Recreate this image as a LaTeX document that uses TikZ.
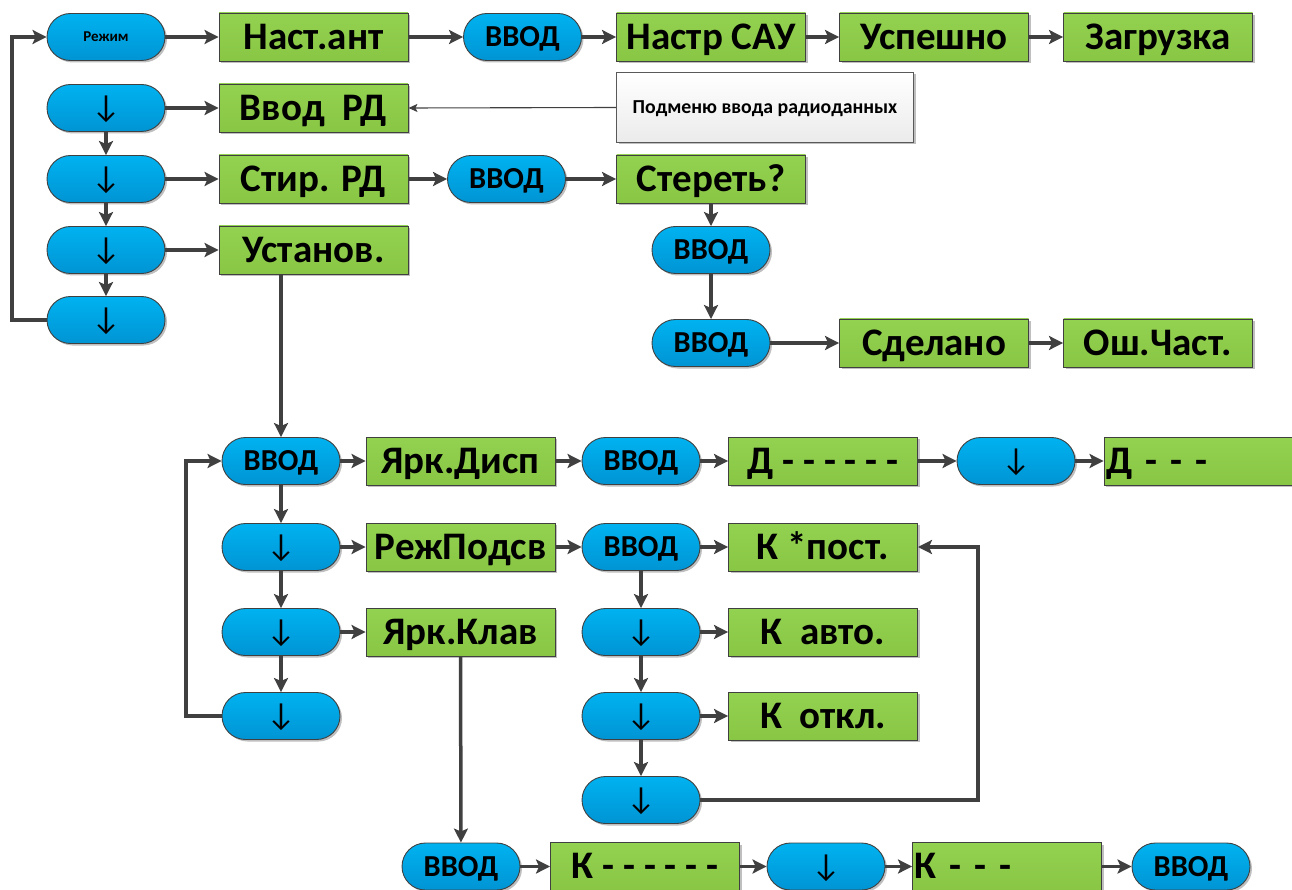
\documentclass[tikz,border=0pt]{standalone}
\usepackage{fontspec}
\setmainfont{Carlito}
\usetikzlibrary{arrows.meta,shadows}
\definecolor{pilltop}{HTML}{00B2F0}
\definecolor{pillbot}{HTML}{0094D4}
\definecolor{greentop}{HTML}{93D150}
\definecolor{greenbot}{HTML}{88C644}
\definecolor{edgecol}{HTML}{404040}
\definecolor{conncol}{HTML}{404040}
\definecolor{calltop}{HTML}{FFFFFF}
\definecolor{callbot}{HTML}{EBEBEB}
\newcommand{\dnarrow}{{\mdseries\fontsize{32}{34}\selectfont ↓}}
\tikzset{
  shadowed/.style={drop shadow={shadow xshift=2pt,shadow yshift=-2pt,opacity=0.25,fill=black}},
  pill/.style={shadowed,rectangle,rounded corners=23.5pt,minimum width=118pt,minimum height=47pt,
    inner sep=0pt,draw=edgecol,line width=0.9pt,top color=pilltop,bottom color=pillbot,
    font=\bfseries\fontsize{30.5}{32}\selectfont,text height=22pt,text depth=2.7pt},
  gbox/.style={shadowed,rectangle,minimum width=189pt,minimum height=48pt,inner sep=0pt,
    draw=edgecol,line width=0.9pt,top color=greentop,bottom color=greenbot,
    font=\bfseries\fontsize{39}{41}\selectfont,text height=28pt,text depth=3.4pt},
  leftbox/.style={gbox,text width=185pt,align=left,inner xsep=2pt},
  callout/.style={shadowed,rectangle,minimum width=297pt,minimum height=70pt,inner sep=0pt,
    draw=gray!70!black,line width=0.8pt,top color=calltop,bottom color=callbot,
    font=\bfseries\fontsize{19.8}{21}\selectfont,text height=14pt,text depth=1.5pt},
  conn/.style={draw=conncol,line width=3.5pt,-{Stealth[length=14pt,width=14pt,inset=3pt]}},
  thinconn/.style={draw=conncol,line width=1.1pt,-{Stealth[length=9pt,width=8pt,inset=2pt]}},
}
\begin{document}
\begin{tikzpicture}[x=1pt,y=1pt]
\useasboundingbox (0,0) rectangle (1292,-890);
\clip (0,0) rectangle (1292,-890);
% top row
\node[pill,font=\bfseries\fontsize{15}{16}\selectfont,text height=11pt,text depth=1.5pt] (prezh) at (106,-37) {Режим};
\node[gbox] (bnast) at (313.5,-37) {Наст.ант};
\node[pill] (pv1) at (522.5,-37) {ВВОД};
\node[gbox] (bnastr) at (711,-37) {Настр САУ};
\node[gbox] (busp) at (934,-37) {Успешно};
\node[gbox] (bzagr) at (1158,-37) {Загрузка};
% row 2
\node[pill] (pd2) at (106,-108) {\dnarrow};
\node[gbox] (bvrd) at (313.5,-108) {Ввод\ \ РД};
\node[callout] (call) at (765,-107.5) {Подменю ввода радиоданных};
% row 3
\node[pill] (pd3) at (106,-179) {\dnarrow};
\node[gbox] (bstir) at (313.5,-179) {Стир. РД};
\node[pill] (pv2) at (506.5,-179) {ВВОД};
\node[gbox] (bster) at (711,-179) {Стереть?};
% row 4
\node[pill] (pd4) at (106,-250) {\dnarrow};
\node[gbox] (bust) at (313.5,-250) {Установ.};
\node[pill] (pv3) at (711,-250) {ВВОД};
% row 5
\node[pill] (pd5) at (106,-320) {\dnarrow};
\node[pill] (pv4) at (711,-343) {ВВОД};
\node[gbox] (bsdel) at (934,-343) {Сделано};
\node[gbox] (bosh) at (1158,-343) {Ош.Част.};
% middle block
\node[pill] (pv5) at (281,-461) {ВВОД};
\node[gbox] (byd) at (460.5,-461) {Ярк.Дисп};
\node[pill] (pv6) at (641,-461) {ВВОД};
\node[gbox] (bd6) at (823,-461) {Д - - - - - -};
\node[pill] (pdd) at (1016,-461) {\dnarrow};
\node[leftbox] (bd3) at (1198.5,-461) {Д - - -};
\node[pill] (pm2) at (281,-547) {\dnarrow};
\node[gbox] (brezh) at (460.5,-547) {РежПодсв};
\node[pill] (pv7) at (641,-547) {ВВОД};
\node[gbox] (bkpost) at (823,-547) {К *пост.};
\node[pill] (pm3) at (281,-632) {\dnarrow};
\node[gbox] (byk) at (460.5,-632) {Ярк.Клав};
\node[pill] (pr3) at (641,-632) {\dnarrow};
\node[gbox] (bkavto) at (823,-632) {К\ \ авто.};
\node[pill] (pm4) at (281,-716) {\dnarrow};
\node[pill] (pr4) at (641,-716) {\dnarrow};
\node[gbox] (bkotkl) at (823,-716) {К\ \ откл.};
\node[pill] (pr5) at (641,-800) {\dnarrow};
% bottom row
\node[pill] (pv8) at (461,-866.5) {ВВОД};
\node[gbox] (bk6) at (645,-866.5) {К - - - - - -};
\node[pill] (pkd) at (826,-866.5) {\dnarrow};
\node[leftbox] (bk3) at (1007,-866.5) {К - - -};
\node[pill] (pv9) at (1191,-866.5) {ВВОД};
% loop coordinates
\coordinate (lx) at (12,0);
\coordinate (mx) at (186,0);
\coordinate (rx) at (978,0);
% connectors: top
\draw[conn] (prezh) -- (bnast);
\draw[conn] (bnast) -- (pv1);
\draw[conn] (pv1) -- (bnastr);
\draw[conn] (bnastr) -- (busp);
\draw[conn] (busp) -- (bzagr);
% left column
\draw[conn] (pd2) -- (pd3);
\draw[conn] (pd3) -- (pd4);
\draw[conn] (pd4) -- (pd5);
\draw[conn] (pd2) -- (bvrd);
\draw[conn] (pd3) -- (bstir);
\draw[conn] (pd4) -- (bust);
\draw[conn] (pd5.west) -- (pd5.west -| lx) |- (prezh.west);
\draw[thinconn] (call.west) -- (bvrd.east);
% erase branch
\draw[conn] (bstir) -- (pv2);
\draw[conn] (pv2) -- (bster);
\draw[conn] (bster) -- (pv3);
\draw[conn] (pv3) -- (pv4);
\draw[conn] (pv4) -- (bsdel);
\draw[conn] (bsdel) -- (bosh);
% settings
\draw[conn] (bust.south -| pv5.north) -- (pv5.north);
\draw[conn] (pv5) -- (byd);
\draw[conn] (pv5) -- (pm2);
\draw[conn] (pm2) -- (pm3);
\draw[conn] (pm3) -- (pm4);
\draw[conn] (pm2) -- (brezh);
\draw[conn] (pm3) -- (byk);
\draw[conn] (pm4.west) -- (pm4.west -| mx) |- (pv5.west);
\draw[conn] (byd) -- (pv6);
\draw[conn] (pv6) -- (bd6);
\draw[conn] (bd6) -- (pdd);
\draw[conn] (pdd) -- (bd3);
\draw[conn] (brezh) -- (pv7);
\draw[conn] (pv7) -- (bkpost);
\draw[conn] (pv7) -- (pr3);
\draw[conn] (pr3) -- (pr4);
\draw[conn] (pr4) -- (pr5);
\draw[conn] (pr3) -- (bkavto);
\draw[conn] (pr4) -- (bkotkl);
\draw[conn] (pr5.east) -- (pr5.east -| rx) |- (bkpost.east);
\draw[conn] (byk) -- (pv8);
\draw[conn] (pv8) -- (bk6);
\draw[conn] (bk6) -- (pkd);
\draw[conn] (pkd) -- (bk3);
\draw[conn] (bk3) -- (pv9);
\end{tikzpicture}
\end{document}
